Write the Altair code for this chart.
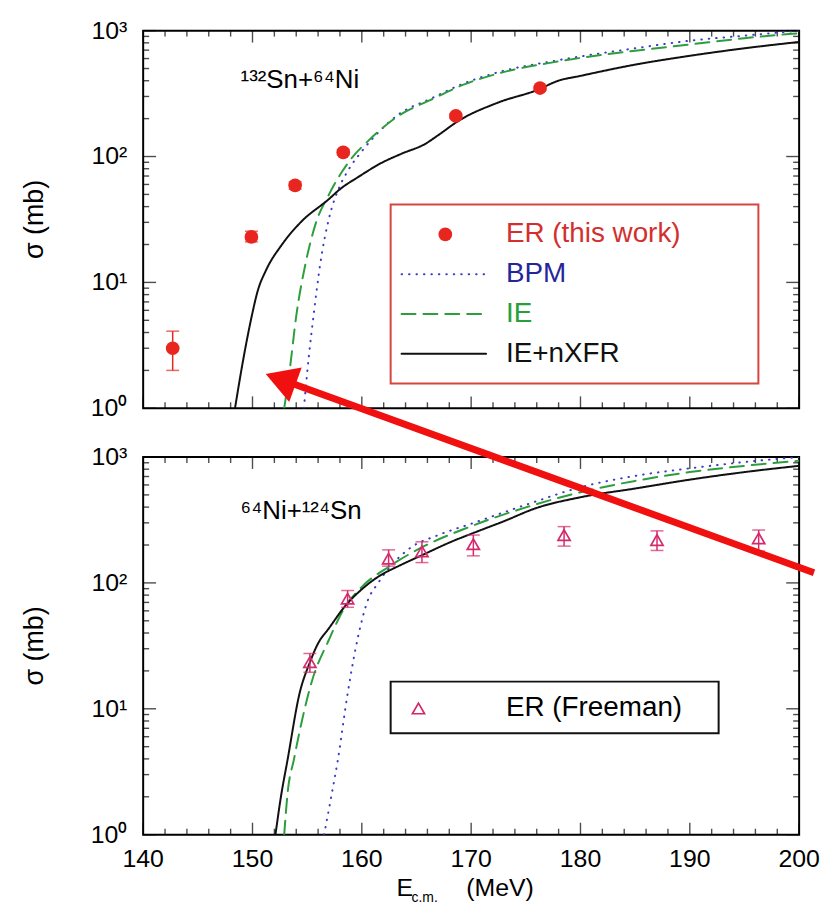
import altair as alt
import pandas as pd

FONT = "Liberation Sans"
W, H = 660, 380

# ---------------- upper panel: 132Sn + 64Ni ----------------
top_label = ["\u00b9\u00b3\u00b2Sn+\u2076\u2074Ni"]
top_er_E = [142.7, 149.9, 153.9, 158.3, 168.6, 176.3]
top_er_sigma = [3.0, 23.0, 59.0, 108.0, 210.0, 350.0]
top_er_lo = [2.0, 21.0, 55.0, 103.0, 202.0, 338.0]
top_er_hi = [4.1, 25.5, 63.0, 114.0, 218.0, 362.0]

top_bpm_E = [154.7, 155.15, 155.6, 156.2, 157.0, 157.9, 158.8, 160.0, 161.5, 163.3,
             166.3, 169.3, 172.5, 177.6, 185.0, 190.0, 195.0, 200.0]
top_bpm_sigma = [1.0, 2.57, 5.6, 14.1, 32.4, 56.0, 79.0, 110.0, 155.0, 214.0,
                 288.0, 380.0, 468.0, 575.0, 724.0, 832.0, 912.0, 1000.0]

top_ie_E = [152.9, 153.4, 154.0, 154.85, 155.75, 157.0, 158.2, 159.4, 160.3, 161.8,
            163.3, 166.3, 169.3, 172.5, 177.6, 185.0, 190.0, 195.0, 200.0]
top_ie_sigma = [1.0, 2.0, 5.4, 14.1, 28.8, 50.0, 76.0, 105.0, 126.0, 166.0,
                209.0, 282.0, 372.0, 457.0, 562.0, 692.0, 776.0, 871.0, 955.0]

top_nxfr_E = [148.4, 149.1, 149.85, 150.5, 151.2, 152.7, 154.4, 157.0, 158.0, 159.7,
              161.8, 163.6, 165.8, 167.0, 168.8, 172.5, 176.1, 177.9, 180.0, 185.0,
              190.0, 195.0, 200.0]
top_nxfr_sigma = [1.0, 2.3, 5.0, 8.7, 12.3, 20.0, 30.0, 46.0, 55.0, 69.0,
                  89.0, 105.0, 126.0, 148.0, 191.0, 269.0, 339.0, 398.0, 437.0, 537.0,
                  631.0, 724.0, 813.0]

# ---------------- lower panel: 64Ni + 124Sn ----------------
bot_label = ["\u2076\u2074Ni+\u00b9\u00b2\u2074Sn"]
bot_er_E = [155.25, 158.7, 162.45, 165.5, 170.2, 178.5, 187.0, 196.3]
bot_er_sigma = [23.5, 75.0, 156.0, 178.0, 203.0, 240.0, 219.0, 226.0]
bot_er_lo = [19.5, 64.0, 136.0, 145.0, 164.0, 196.0, 181.0, 179.0]
bot_er_hi = [27.5, 87.0, 183.0, 212.0, 240.0, 280.0, 259.0, 263.0]

bot_bpm_E = [156.55, 157.2, 157.8, 158.7, 159.7, 160.5, 161.5, 164.3, 167.0, 170.0,
             175.0, 180.0, 185.0, 190.0, 195.0, 200.0]
bot_bpm_sigma = [1.0, 2.0, 3.9, 13.2, 38.9, 70.8, 100.0, 186.0, 240.0, 295.0,
                 417.0, 575.0, 708.0, 813.0, 912.0, 1000.0]

bot_ie_E = [152.9, 153.2, 153.8, 154.4, 155.4, 157.0, 158.4, 160.0, 162.5, 165.0,
            170.0, 175.0, 180.0, 185.0, 190.0, 195.0, 200.0]
bot_ie_sigma = [1.0, 2.1, 4.0, 7.2, 16.2, 35.5, 63.0, 93.0, 135.0, 182.0,
                282.0, 398.0, 525.0, 646.0, 759.0, 851.0, 933.0]

bot_nxfr_E = [152.1, 152.6, 153.2, 154.3, 155.25, 156.0, 157.0, 158.5, 160.0, 161.5,
              163.5, 165.5, 168.0, 170.6, 173.0, 175.8, 180.0, 185.0, 190.0, 195.0, 200.0]
bot_nxfr_sigma = [1.0, 2.0, 3.9, 13.2, 23.4, 33.1, 43.7, 66.0, 89.0, 112.0,
                  138.0, 166.0, 209.0, 257.0, 309.0, 389.0, 479.0, 562.0, 661.0, 759.0, 851.0]

# ---------------- series / legend definitions ----------------
model_names = ["BPM", "IE", "IE+nXFR"]
model_colors = ["#3b3bc4", "#2c9e3c", "#111111"]
model_dashes = [[0.5, 7], [14, 8], [1, 0]]

top_legend_labels = ["ER (this work)", "BPM", "IE", "IE+nXFR"]
top_legend_text_colors = ["#d32f2f", "#25259a", "#27a03a", "#111111"]
bot_legend_labels = ["ER (Freeman)"]

er_top_color = "#e8261f"
er_bot_color = "#d42a6b"
arrow_color = "#f0100f"

# ---------------- axes (ticks and tick labels) ----------------
x_major_ticks = [140, 150, 160, 170, 180, 190, 200]
x_tick_labels = ["140", "150", "160", "170", "180", "190", "200"]
x_minor_ticks = [142, 144, 146, 148, 152, 154, 156, 158, 162, 164, 166, 168,
                 172, 174, 176, 178, 182, 184, 186, 188, 192, 194, 196, 198]
y_major_ticks = [1, 10, 100, 1000]
y_tick_labels = ["10\u2070", "10\u00b9", "10\u00b2", "10\u00b3"]
y_minor_ticks = [2, 3, 4, 5, 6, 7, 8, 9, 20, 30, 40, 50, 60, 70, 80, 90,
                 200, 300, 400, 500, 600, 700, 800, 900]
y_title = ["\u03c3 (mb)"]
x_title_parts = ["E", "c.m.", "(MeV)"]

# annotation arrow (in lower-panel data units)
arrow_tail_E, arrow_tail_sigma = [201.36], [120.5]
arrow_head_E, arrow_head_sigma = [152.57], [4140.0]

X_LO, X_HI = 140, 200
Y_LO, Y_HI = 1, 1000
xscale = alt.Scale(domain=[X_LO, X_HI], nice=False, zero=False)
yscale = alt.Scale(type="log", domain=[Y_LO, Y_HI], nice=False)

frame = pd.DataFrame({"E": [X_LO, X_HI], "sigma": [Y_LO, Y_HI]})


def X(field):
    return alt.X(field, scale=xscale, axis=None)


def Y(field):
    return alt.Y(field, scale=yscale, axis=None)


def frame_layer():
    return alt.Chart(frame).mark_point(opacity=0).encode(x=X("E:Q"), y=Y("sigma:Q"))


def inward_ticks():
    """Tick marks pointing into the frame on all four sides."""
    layers = []
    for vals, size in ((x_major_ticks, 12), (x_minor_ticks, 6)):
        for edge, sign in ((Y_LO, -1), (Y_HI, 1)):
            df = pd.DataFrame({"E": vals, "sigma": [edge] * len(vals)})
            layers.append(alt.Chart(df).mark_tick(
                orient="vertical", size=size, thickness=1.4, color="black",
                yOffset=sign * size / 2).encode(x=X("E:Q"), y=Y("sigma:Q")))
    for vals, size in ((y_major_ticks, 13), (y_minor_ticks, 6)):
        for edge, sign in ((X_LO, 1), (X_HI, -1)):
            df = pd.DataFrame({"E": [edge] * len(vals), "sigma": vals})
            layers.append(alt.Chart(df).mark_tick(
                orient="horizontal", size=size, thickness=1.4, color="black",
                xOffset=sign * size / 2).encode(x=X("E:Q"), y=Y("sigma:Q")))
    return layers


def y_axis_texts():
    lab = pd.DataFrame({"sigma": y_major_ticks, "label": y_tick_labels})
    labels = alt.Chart(lab).mark_text(
        align="right", baseline="middle", font=FONT, fontSize=25, color="black"
    ).encode(y=Y("sigma:Q"), x=alt.value(-16), text="label:N")
    title = alt.Chart(pd.DataFrame({"label": y_title})).mark_text(
        angle=270, align="center", baseline="middle", font=FONT, fontSize=27, color="black"
    ).encode(x=alt.value(-109), y=alt.value(H / 2), text="label:N")
    return [labels, title]


def x_axis_texts():
    lab = pd.DataFrame({"E": x_major_ticks, "label": x_tick_labels})
    return [alt.Chart(lab).mark_text(
        align="center", baseline="top", font=FONT, fontSize=25, color="black"
    ).encode(x=X("E:Q"), y=alt.value(H + 13), text="label:N")]


def curve_frame(series):
    rows = []
    for name, Es, ss in series:
        for i, (e, s) in enumerate(zip(Es, ss)):
            rows.append({"model": name, "E": e, "sigma": s, "order": i})
    return pd.DataFrame(rows)


def lines_layer(df):
    return alt.Chart(df).mark_line(clip=True, strokeWidth=2, strokeCap="round",
                                   interpolate="monotone").encode(
        x=X("E:Q"),
        y=Y("sigma:Q"),
        color=alt.Color("model:N", scale=alt.Scale(domain=model_names, range=model_colors), legend=None),
        strokeDash=alt.StrokeDash("model:N", scale=alt.Scale(domain=model_names, range=model_dashes), legend=None),
        order="order:Q",
    )


def data_layers(E, s, lo, hi, color, shape, filled, size):
    df = pd.DataFrame({"E": E, "sigma": s, "lo": lo, "hi": hi})
    bars = alt.Chart(df).mark_rule(color=color, strokeWidth=1.5).encode(
        x=X("E:Q"), y=Y("lo:Q"), y2="hi:Q")
    cap_lo = alt.Chart(df).mark_tick(orient="horizontal", size=13, thickness=1.5, color=color).encode(
        x=X("E:Q"), y=Y("lo:Q"))
    cap_hi = alt.Chart(df).mark_tick(orient="horizontal", size=13, thickness=1.5, color=color).encode(
        x=X("E:Q"), y=Y("hi:Q"))
    pts = alt.Chart(df).mark_point(shape=shape, filled=filled, size=size, color=color,
                                   opacity=1, strokeWidth=1.7).encode(
        x=X("E:Q"), y=Y("sigma:Q"))
    return [bars, cap_lo, cap_hi, pts]


def text_layer(text, x, y, size, color="black", align="left", baseline="middle"):
    return alt.Chart(pd.DataFrame({"label": [text]})).mark_text(
        align=align, baseline=baseline, font=FONT, fontSize=size, color=color
    ).encode(x=alt.value(x), y=alt.value(y), text="label:N")


def box_layer(x1, x2, y1, y2, color):
    return alt.Chart(pd.DataFrame({"label": ["box"]})).mark_rect(
        fillOpacity=0, stroke=color, strokeWidth=2
    ).encode(x=alt.value(x1), x2=alt.value(x2), y=alt.value(y1), y2=alt.value(y2))


# ---------------- upper panel ----------------
top_layers = [frame_layer()] + inward_ticks()
top_layers.append(lines_layer(curve_frame([
    ("BPM", top_bpm_E, top_bpm_sigma),
    ("IE", top_ie_E, top_ie_sigma),
    ("IE+nXFR", top_nxfr_E, top_nxfr_sigma),
])))
top_layers += data_layers(top_er_E, top_er_sigma, top_er_lo, top_er_hi,
                          er_top_color, "circle", True, 190)
top_layers += y_axis_texts()
top_layers.append(text_layer(top_label[0], 98, 50, 26))

# legend of the upper panel
top_layers.append(box_layer(249, 619, 175, 355, "#d6463e"))
row_y = [205, 245, 285, 325]
top_layers.append(
    alt.Chart(pd.DataFrame({"label": top_legend_labels[:1]})).mark_point(
        shape="circle", filled=True, size=190, color=er_top_color, opacity=1
    ).encode(x=alt.value(304), y=alt.value(row_y[0]))
)
for i, name in enumerate(model_names):
    top_layers.append(
        alt.Chart(pd.DataFrame({"label": [name]})).mark_rule(
            color=model_colors[i], strokeDash=model_dashes[i], strokeWidth=2, strokeCap="round"
        ).encode(x=alt.value(260), x2=alt.value(345), y=alt.value(row_y[i + 1]))
    )
for lab, col, yy in zip(top_legend_labels, top_legend_text_colors, row_y):
    top_layers.append(text_layer(lab, 365, yy, 28, col))

top = alt.layer(*top_layers).properties(width=W, height=H)

# ---------------- lower panel ----------------
bot_layers = [frame_layer()] + inward_ticks()
bot_layers.append(lines_layer(curve_frame([
    ("BPM", bot_bpm_E, bot_bpm_sigma),
    ("IE", bot_ie_E, bot_ie_sigma),
    ("IE+nXFR", bot_nxfr_E, bot_nxfr_sigma),
])))
bot_layers += data_layers(bot_er_E, bot_er_sigma, bot_er_lo, bot_er_hi,
                          er_bot_color, "triangle-up", False, 150)
bot_layers += y_axis_texts()
bot_layers += x_axis_texts()
bot_layers.append(text_layer(bot_label[0], 98, 54, 26))

# legend of the lower panel
bot_layers.append(box_layer(249, 579, 226, 278, "#111111"))
bot_layers.append(
    alt.Chart(pd.DataFrame({"label": bot_legend_labels})).mark_point(
        shape="triangle-up", filled=False, size=150, color=er_bot_color, opacity=1, strokeWidth=1.7
    ).encode(x=alt.value(277), y=alt.value(253))
)
bot_layers.append(text_layer(bot_legend_labels[0], 365, 253, 28))

# x-axis title: E_c.m. (MeV)
bot_layers.append(text_layer(x_title_parts[0], 255, 442, 25, baseline="alphabetic"))
bot_layers.append(text_layer(x_title_parts[1], 270, 448, 14, baseline="alphabetic"))
bot_layers.append(text_layer(x_title_parts[2], 325, 442, 25, baseline="alphabetic"))

# red arrow annotation, drawn last so it lies on top of everything
arrow_df = pd.DataFrame({"E": arrow_tail_E, "sigma": arrow_tail_sigma,
                         "E2": arrow_head_E, "sigma2": arrow_head_sigma})
bot_layers.append(
    alt.Chart(arrow_df).mark_rule(color=arrow_color, strokeWidth=7, strokeCap="butt").encode(
        x=X("E:Q"), x2="E2:Q", y=Y("sigma:Q"), y2="sigma2:Q")
)
bot_layers.append(
    alt.Chart(arrow_df).mark_point(shape="triangle-up", filled=True, size=1350, angle=290,
                                   color=arrow_color, opacity=1, strokeWidth=0).encode(
        x=X("E2:Q"), y=Y("sigma2:Q"))
)

bottom = alt.layer(*bot_layers).properties(width=W, height=H)

chart = alt.vconcat(top, bottom, spacing=49, bounds="flush").properties(
    padding={"left": 12, "top": 7, "right": 0, "bottom": 0}
).configure_view(stroke="black", strokeWidth=2)

chart.save("out.html", embed_options={"renderer": "svg", "actions": False})
